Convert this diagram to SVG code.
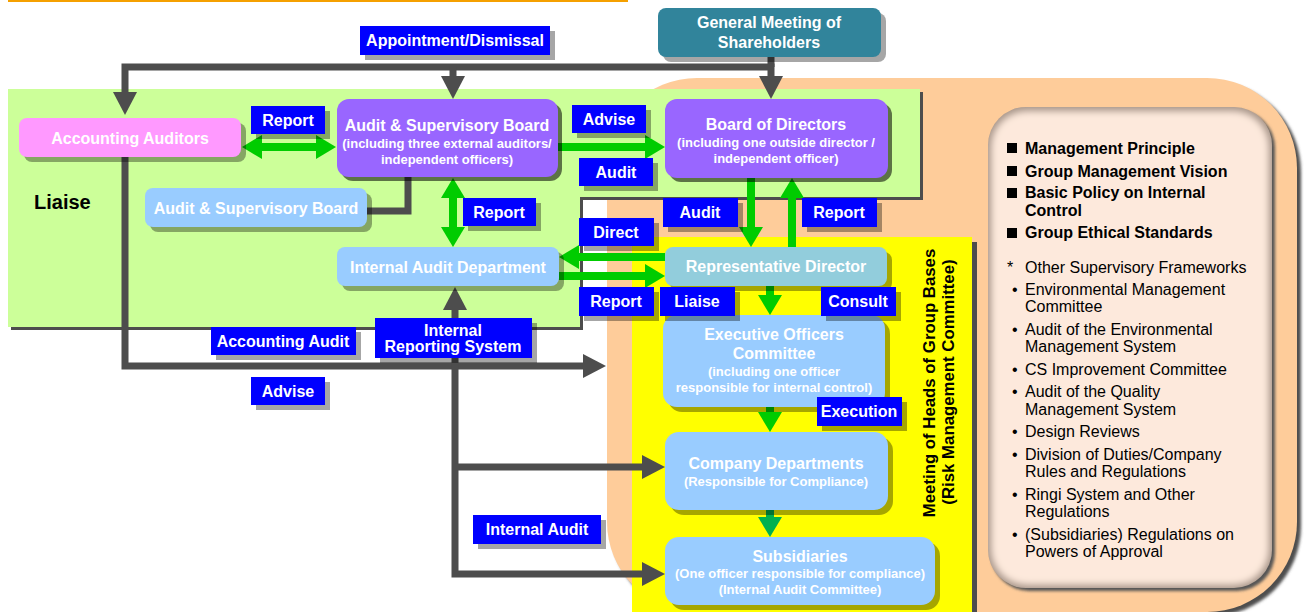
<svg xmlns="http://www.w3.org/2000/svg" width="1306" height="612" viewBox="0 0 1306 612">
  <defs>
    <style>
      text { font-family: "Liberation Sans", Arial, Helvetica, sans-serif; }
      .t { font-weight: bold; fill: #fff; text-anchor: middle; font-size: 16px; }
      .s { font-size: 13px; }
      .k { fill: #000; }
      .lb { fill: #0000ff; }
      .sh { fill: #000; opacity: 0.35; }
      .shd { fill: #000; opacity: 0.55; }
      .dk { fill: none; stroke: #4d4d4d; stroke-width: 7; stroke-linejoin: miter; }
      .gr { fill: none; stroke: #00cc00; stroke-width: 8; }
      .gr2 { fill: none; stroke: #00b050; stroke-width: 8; }
      .fw { font-size: 16px; fill: #000; }
      .fwb { font-size: 16px; fill: #000; font-weight: bold; }
    </style>
    <marker id="hd" markerUnits="userSpaceOnUse" markerWidth="23" markerHeight="24" viewBox="0 0 23 24" refX="0" refY="12" orient="auto-start-reverse" overflow="visible">
      <path d="M0,0 L23,12 L0,24 Z" fill="#4d4d4d"/>
    </marker>
    <marker id="hg" markerUnits="userSpaceOnUse" markerWidth="20" markerHeight="24" viewBox="0 0 20 24" refX="0" refY="12" orient="auto-start-reverse" overflow="visible">
      <path d="M0,0 L20,12 L0,24 Z" fill="#00cc00"/>
    </marker>
    <marker id="hg2" markerUnits="userSpaceOnUse" markerWidth="20" markerHeight="24" viewBox="0 0 20 24" refX="0" refY="12" orient="auto" overflow="visible">
      <path d="M0,0 L20,12 L0,24 Z" fill="#00b050"/>
    </marker>
    <filter id="soft" x="-5%" y="-5%" width="110%" height="110%">
      <feGaussianBlur stdDeviation="1.5"/>
    </filter>
    <filter id="bevel" x="-5%" y="-5%" width="110%" height="110%">
      <feGaussianBlur stdDeviation="3.5"/>
    </filter>
    <clipPath id="panelClip">
      <rect x="988" y="107" width="284" height="481" rx="38"/>
    </clipPath>
  </defs>

  <rect width="1306" height="612" fill="#fff"/>

  <!-- header rule -->
  <rect x="8" y="0" width="620" height="2" fill="#f5a000"/>

  <!-- internal control zone (peach) -->
  <g id="control-zone">
    <rect x="611" y="82" width="690" height="534" rx="90" fill="#4d4d4d" filter="url(#soft)"/>
    <rect x="607" y="78" width="690" height="534" rx="90" fill="#fecc9a"/>
  </g>

  <!-- frameworks panel -->
  <g id="frameworks">
    <rect x="991" y="110" width="284" height="481" rx="38" fill="#555" filter="url(#soft)"/>
    <rect x="988" y="107" width="284" height="481" rx="38" fill="#a8968a"/>
    <g clip-path="url(#panelClip)">
      <rect x="991" y="111" width="278" height="474" rx="36" fill="#fde9dc" filter="url(#bevel)"/>
    </g>
    <rect x="1007" y="143" width="10" height="10" fill="#000"/>
    <text class="fwb" x="1025" y="154">Management Principle</text>
    <rect x="1007" y="166" width="10" height="10" fill="#000"/>
    <text class="fwb" x="1025" y="177">Group Management Vision</text>
    <rect x="1007" y="188" width="10" height="10" fill="#000"/>
    <text class="fwb" x="1025" y="198">Basic Policy on Internal</text>
    <text class="fwb" x="1025" y="216">Control</text>
    <rect x="1007" y="228" width="10" height="10" fill="#000"/>
    <text class="fwb" x="1025" y="238">Group Ethical Standards</text>
    <text class="fw" x="1007" y="273">*</text>
    <text class="fw" x="1025" y="273">Other Supervisory Frameworks</text>
    <text class="fw" x="1012" y="295">•</text>
    <text class="fw" x="1025" y="295">Environmental Management</text>
    <text class="fw" x="1025" y="312">Committee</text>
    <text class="fw" x="1012" y="335">•</text>
    <text class="fw" x="1025" y="335">Audit of the Environmental</text>
    <text class="fw" x="1025" y="352">Management System</text>
    <text class="fw" x="1012" y="375">•</text>
    <text class="fw" x="1025" y="375">CS Improvement Committee</text>
    <text class="fw" x="1012" y="397">•</text>
    <text class="fw" x="1025" y="397">Audit of the Quality</text>
    <text class="fw" x="1025" y="415">Management System</text>
    <text class="fw" x="1012" y="437">•</text>
    <text class="fw" x="1025" y="437">Design Reviews</text>
    <text class="fw" x="1012" y="460">•</text>
    <text class="fw" x="1025" y="460">Division of Duties/Company</text>
    <text class="fw" x="1025" y="477">Rules and Regulations</text>
    <text class="fw" x="1012" y="500">•</text>
    <text class="fw" x="1025" y="500">Ringi System and Other</text>
    <text class="fw" x="1025" y="517">Regulations</text>
    <text class="fw" x="1012" y="540">•</text>
    <text class="fw" x="1025" y="540">(Subsidiaries) Regulations on</text>
    <text class="fw" x="1025" y="557">Powers of Approval</text>
  </g>

  <!-- supervisory zone (green) -->
  <g id="supervisory-zone">
    <path d="M11,92 H923 V200 H583 V330 H11 Z" fill="#4d4d4d"/>
    <path d="M8,89 H920 V197 H580 V327 H8 Z" fill="#ccff99"/>
    <text class="k" x="34" y="209" font-size="20" font-weight="bold">Liaise</text>
  </g>

  <!-- group bases meeting zone (yellow) -->
  <g id="group-bases-zone">
    <rect x="637" y="242" width="340" height="380" fill="#4d4d4d"/>
    <rect x="632" y="237" width="340" height="380" fill="#ffff00"/>
    <text class="k" font-size="16.8" font-weight="bold" text-anchor="middle" transform="translate(935,383) rotate(-90)">Meeting of Heads of Group Bases</text>
    <text class="k" font-size="16.8" font-weight="bold" text-anchor="middle" transform="translate(954,382) rotate(-90)">(Risk Management Committee)</text>
  </g>

  <!-- connectors -->
  <g id="connectors">
    <path class="dk" d="M771,57 V67"/>
    <path class="dk" d="M125,92 V67 H771 V76" marker-start="url(#hd)" marker-end="url(#hd)"/>
    <path class="dk" d="M453,67 V76" marker-end="url(#hd)"/>
    <path class="dk" d="M367,211 H408 V176"/>
    <path class="dk" d="M125,157 V366 H583" marker-end="url(#hd)"/>
    <path class="dk" d="M642,574 H455 V310" marker-start="url(#hd)" marker-end="url(#hd)"/>
    <path class="dk" d="M455,467 H642" marker-end="url(#hd)"/>

    <path class="gr" d="M262,147 H316" marker-start="url(#hg)" marker-end="url(#hg)"/>
    <path class="gr" d="M558,147 H645" marker-end="url(#hg)"/>
    <path class="gr" d="M751,178 V227" marker-end="url(#hg)"/>
    <path class="gr" d="M792,247 V198" marker-end="url(#hg)"/>
    <path class="gr" d="M453,198 V227" marker-start="url(#hg)" marker-end="url(#hg)"/>
    <path class="gr" d="M665,257 H579" marker-end="url(#hg)"/>
    <path class="gr" d="M559,276 H645" marker-end="url(#hg)"/>
    <path class="gr" d="M770,286 V295" marker-end="url(#hg)"/>
    <path class="gr" d="M770,407 V412" marker-end="url(#hg)"/>
    <path class="gr2" d="M770,510 V517" marker-end="url(#hg2)"/>
  </g>

  <!-- nodes -->
  <g id="shareholders">
    <rect class="sh" x="663" y="13" width="223" height="49" rx="8"/>
    <rect x="658" y="8" width="223" height="49" rx="8" fill="#31849b"/>
    <text class="t" x="769" y="28">General Meeting of</text>
    <text class="t" x="769" y="48">Shareholders</text>
  </g>
  <g id="accounting-auditors">
    <rect class="sh" x="24" y="123" width="222" height="39" rx="8"/>
    <rect x="19" y="118" width="222" height="39" rx="8" fill="#ff99ff"/>
    <text class="t" x="130" y="144">Accounting Auditors</text>
  </g>
  <g id="as-board">
    <rect class="shd" x="341" y="103" width="221" height="78" rx="12"/>
    <rect x="337" y="99" width="221" height="78" rx="12" fill="#9966ff"/>
    <text class="t" x="447" y="131">Audit &amp; Supervisory Board</text>
    <text class="t s" x="447" y="148">(including three external auditors/</text>
    <text class="t s" x="447" y="164">independent officers)</text>
  </g>
  <g id="board-of-directors">
    <rect class="shd" x="669" y="103" width="223" height="79" rx="12"/>
    <rect x="665" y="99" width="223" height="79" rx="12" fill="#9966ff"/>
    <text class="t" x="776" y="130">Board of Directors</text>
    <text class="t s" x="776" y="147">(including one outside director /</text>
    <text class="t s" x="776" y="163">independent officer)</text>
  </g>
  <g id="as-board-liaise">
    <rect class="sh" x="150" y="193" width="222" height="39" rx="8"/>
    <rect x="145" y="188" width="222" height="39" rx="8" fill="#99ccff"/>
    <text class="t" x="256" y="214">Audit &amp; Supervisory Board</text>
  </g>
  <g id="internal-audit-dept">
    <rect class="sh" x="342" y="252" width="222" height="39" rx="8"/>
    <rect x="337" y="247" width="222" height="39" rx="8" fill="#99ccff"/>
    <text class="t" x="448" y="273">Internal Audit Department</text>
  </g>
  <g id="representative-director">
    <rect class="sh" x="670" y="252" width="222" height="39" rx="8"/>
    <rect x="665" y="247" width="222" height="39" rx="8" fill="#92cddc"/>
    <text class="t" x="776" y="272">Representative Director</text>
  </g>
  <g id="executive-officers">
    <rect class="sh" x="668" y="320" width="222" height="92" rx="14"/>
    <rect x="663" y="315" width="222" height="92" rx="14" fill="#99ccff"/>
    <text class="t" x="774" y="340">Executive Officers</text>
    <text class="t" x="774" y="359">Committee</text>
    <text class="t s" x="774" y="376">(including one officer</text>
    <text class="t s" x="774" y="392">responsible for internal control)</text>
  </g>
  <g id="company-departments">
    <rect class="sh" x="670" y="437" width="223" height="78" rx="14"/>
    <rect x="665" y="432" width="223" height="78" rx="14" fill="#99ccff"/>
    <text class="t" x="776" y="469">Company Departments</text>
    <text class="t s" x="776" y="486">(Responsible for Compliance)</text>
  </g>
  <g id="subsidiaries">
    <rect class="sh" x="670" y="542" width="270" height="68" rx="14"/>
    <rect x="665" y="537" width="270" height="68" rx="14" fill="#99ccff"/>
    <text class="t" x="800" y="562">Subsidiaries</text>
    <text class="t s" x="800" y="578">(One officer responsible for compliance)</text>
    <text class="t s" x="800" y="594">(Internal Audit Committee)</text>
  </g>

  <!-- connector labels -->
  <g id="labels">
    <rect class="sh" x="365" y="31" width="190" height="29"/>
    <rect class="lb" x="360" y="26" width="190" height="29"/>
    <text class="t" x="455" y="46">Appointment/Dismissal</text>

    <rect class="sh" x="256" y="111" width="74" height="28"/>
    <rect class="lb" x="251" y="106" width="74" height="28"/>
    <text class="t" x="288" y="126">Report</text>

    <rect class="sh" x="577" y="110" width="74" height="28"/>
    <rect class="lb" x="572" y="105" width="74" height="28"/>
    <text class="t" x="609" y="125">Advise</text>

    <rect class="sh" x="584" y="163" width="74" height="28"/>
    <rect class="lb" x="579" y="158" width="74" height="28"/>
    <text class="t" x="616" y="178">Audit</text>

    <rect class="sh" x="468" y="203" width="73" height="28"/>
    <rect class="lb" x="463" y="198" width="73" height="28"/>
    <text class="t" x="499" y="218">Report</text>

    <rect class="sh" x="584" y="223" width="75" height="28"/>
    <rect class="lb" x="579" y="218" width="75" height="28"/>
    <text class="t" x="616" y="238">Direct</text>

    <rect class="sh" x="584" y="292" width="75" height="29"/>
    <rect class="lb" x="579" y="287" width="75" height="29"/>
    <text class="t" x="616" y="307">Report</text>

    <rect class="sh" x="668" y="203" width="75" height="29"/>
    <rect class="lb" x="663" y="198" width="75" height="29"/>
    <text class="t" x="700" y="218">Audit</text>

    <rect class="sh" x="807" y="203" width="75" height="29"/>
    <rect class="lb" x="802" y="198" width="75" height="29"/>
    <text class="t" x="839" y="218">Report</text>

    <rect class="sh" x="665" y="292" width="75" height="29"/>
    <rect class="lb" x="660" y="287" width="75" height="29"/>
    <text class="t" x="697" y="307">Liaise</text>

    <rect class="sh" x="826" y="292" width="75" height="29"/>
    <rect class="lb" x="821" y="287" width="75" height="29"/>
    <text class="t" x="858" y="307">Consult</text>

    <rect class="sh" x="822" y="402" width="85" height="29"/>
    <rect class="lb" x="817" y="397" width="85" height="29"/>
    <text class="t" x="859" y="417">Execution</text>

    <rect class="sh" x="216" y="332" width="145" height="28"/>
    <rect class="lb" x="211" y="327" width="145" height="28"/>
    <text class="t" x="283" y="347">Accounting Audit</text>

    <rect class="sh" x="380" y="323" width="157" height="40"/>
    <rect class="lb" x="375" y="318" width="157" height="40"/>
    <text class="t" x="453" y="336">Internal</text>
    <text class="t" x="453" y="352">Reporting System</text>

    <rect class="sh" x="256" y="382" width="74" height="28"/>
    <rect class="lb" x="251" y="377" width="74" height="28"/>
    <text class="t" x="288" y="397">Advise</text>

    <rect class="sh" x="478" y="520" width="128" height="29"/>
    <rect class="lb" x="473" y="515" width="128" height="29"/>
    <text class="t" x="537" y="535">Internal Audit</text>
  </g>
</svg>
